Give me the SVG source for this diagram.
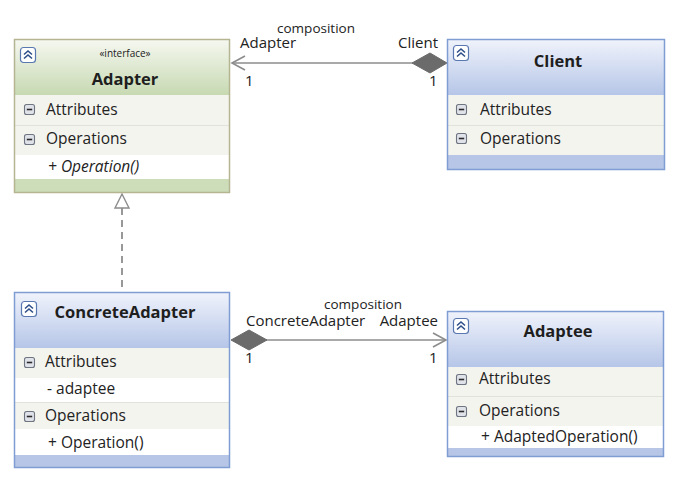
<svg xmlns="http://www.w3.org/2000/svg" width="678" height="480" viewBox="0 0 678 480">
<defs>
<linearGradient id="gGreen" x1="0" y1="0" x2="0" y2="1">
<stop offset="0" stop-color="#f6f8f1"/><stop offset="1" stop-color="#c7d9b2"/>
</linearGradient>
<linearGradient id="gBlue" x1="0" y1="0" x2="0" y2="1">
<stop offset="0" stop-color="#f0f3fb"/><stop offset="1" stop-color="#b6c6e8"/>
</linearGradient>
<g id="collapse">
<rect x="0.5" y="0.5" width="15" height="15" rx="3" fill="#ffffff" stroke="#5a78b0" stroke-width="1.2"/>
<polyline points="4,7.5 8,4 12,7.5" fill="none" stroke="#2f4f8a" stroke-width="1.6"/>
<polyline points="4,11.5 8,8 12,11.5" fill="none" stroke="#2f4f8a" stroke-width="1.6"/>
</g>
<g id="minus">
<rect x="0.5" y="0.5" width="10" height="10" rx="2" fill="#dfe2e8" stroke="#6f7580" stroke-width="1.1"/>
<line x1="2.8" y1="5.5" x2="8.2" y2="5.5" stroke="#2a2a2a" stroke-width="1.6"/>
</g>
</defs>
<style>
text{font-family:"Open Sans","Noto Sans","DejaVu Sans",sans-serif;fill:#222}
.title{font-size:16.5px;font-weight:bold;text-anchor:middle;fill:#1e1e1e}
.stereo{font-size:10px;text-anchor:middle}
.row{font-size:15.5px}
.lbl{font-size:15px}
.comp{font-size:13.5px;text-anchor:middle}
.sec{fill:#f4f4ef}
.item{fill:#ffffff}
.sep{stroke:#e2e2dc;stroke-width:1}
.edge{stroke:#8c8c8c;stroke-width:1.6;fill:none}
.dia{fill:#6b6b6b;stroke:#6b6b6b;stroke-width:1}
</style>

<g id="connectors">
<line class="edge" x1="232" y1="63" x2="413" y2="63"/>
<polyline class="edge" points="245,56 232,63 245,70"/>
<polygon class="dia" points="412,63 430,53 447,63 430,73"/>
<line class="edge" x1="266" y1="340" x2="445" y2="340"/>
<polyline class="edge" points="433,333 446,340 433,347"/>
<polygon class="dia" points="231,340 249,330 267,340 249,350"/>
<line x1="122" y1="208" x2="122" y2="292" stroke="#777" stroke-width="1.5" stroke-dasharray="7,5"/>
<polygon points="122,194 115,208 129,208" fill="#ffffff" stroke="#8c8c8c" stroke-width="1.4"/>
<text class="comp" x="316" y="33">composition</text>
<text class="lbl" x="240" y="48">Adapter</text>
<text class="lbl" x="438" y="48" text-anchor="end">Client</text>
<text class="lbl" x="245" y="86">1</text>
<text class="lbl" x="429" y="86">1</text>
<text class="comp" x="363" y="309">composition</text>
<text class="lbl" x="246" y="326">ConcreteAdapter</text>
<text class="lbl" x="438" y="326" text-anchor="end">Adaptee</text>
<text class="lbl" x="245" y="363">1</text>
<text class="lbl" x="429" y="363">1</text>
</g>

<g id="adapter">
<rect x="14" y="39" width="216" height="154" fill="#cddcb9"/>
<rect x="14" y="39" width="216" height="56" fill="url(#gGreen)"/>
<rect class="sec" x="14" y="95" width="216" height="60"/>
<line class="sep" x1="14" y1="125.5" x2="230" y2="125.5"/>
<rect class="item" x="14" y="155" width="216" height="24"/>
<rect x="14.5" y="39.5" width="215" height="153" fill="none" stroke="#b5b592" stroke-width="1.5"/>
<use href="#collapse" x="20" y="47"/>
<text class="stereo" x="125" y="57">«interface»</text>
<text class="title" x="125" y="85">Adapter</text>
<use href="#minus" x="24" y="104"/>
<text class="row" x="46" y="115">Attributes</text>
<use href="#minus" x="24" y="134"/>
<text class="row" x="46" y="144">Operations</text>
<text class="row" x="48" y="172" font-style="italic">+ Operation()</text>
</g>

<g id="client">
<rect x="447" y="39" width="218" height="131" fill="#b7c6e6"/>
<rect x="447" y="39" width="218" height="56" fill="url(#gBlue)"/>
<rect class="sec" x="447" y="95" width="218" height="60"/>
<line class="sep" x1="447" y1="125.5" x2="665" y2="125.5"/>
<rect x="447.5" y="39.5" width="217" height="130" fill="none" stroke="#7f9dd3" stroke-width="1.5"/>
<use href="#collapse" x="453" y="45"/>
<text class="title" x="558" y="67">Client</text>
<use href="#minus" x="456" y="104"/>
<text class="row" x="480" y="115">Attributes</text>
<use href="#minus" x="456" y="133"/>
<text class="row" x="480" y="144">Operations</text>
</g>

<g id="concreteAdapter">
<rect x="14" y="292" width="216" height="176" fill="#b7c6e6"/>
<rect x="14" y="292" width="216" height="56" fill="url(#gBlue)"/>
<rect class="sec" x="14" y="348" width="216" height="30"/>
<rect class="item" x="14" y="378" width="216" height="24"/>
<line class="sep" x1="14" y1="402.5" x2="230" y2="402.5"/>
<rect class="sec" x="14" y="403" width="216" height="26"/>
<rect class="item" x="14" y="429" width="216" height="26"/>
<rect x="14.5" y="292.5" width="215" height="175" fill="none" stroke="#7f9dd3" stroke-width="1.5"/>
<use href="#collapse" x="21" y="301"/>
<text class="title" x="125" y="318">ConcreteAdapter</text>
<use href="#minus" x="24" y="357"/>
<text class="row" x="45" y="367">Attributes</text>
<text class="row" x="47" y="394">- adaptee</text>
<use href="#minus" x="24" y="411"/>
<text class="row" x="45" y="421">Operations</text>
<text class="row" x="48" y="448">+ Operation()</text>
</g>

<g id="adaptee">
<rect x="447" y="311" width="217" height="146" fill="#b7c6e6"/>
<rect x="447" y="311" width="217" height="56" fill="url(#gBlue)"/>
<rect class="sec" x="447" y="367" width="217" height="59"/>
<line class="sep" x1="447" y1="396.5" x2="664" y2="396.5"/>
<rect class="item" x="447" y="426" width="217" height="22"/>
<rect x="447.5" y="311.5" width="216" height="145" fill="none" stroke="#7f9dd3" stroke-width="1.5"/>
<use href="#collapse" x="453" y="318"/>
<text class="title" x="558" y="337">Adaptee</text>
<use href="#minus" x="456" y="374"/>
<text class="row" x="479" y="384">Attributes</text>
<use href="#minus" x="456" y="406"/>
<text class="row" x="479" y="416">Operations</text>
<text class="row" x="481" y="442">+ AdaptedOperation()</text>
</g>
</svg>
